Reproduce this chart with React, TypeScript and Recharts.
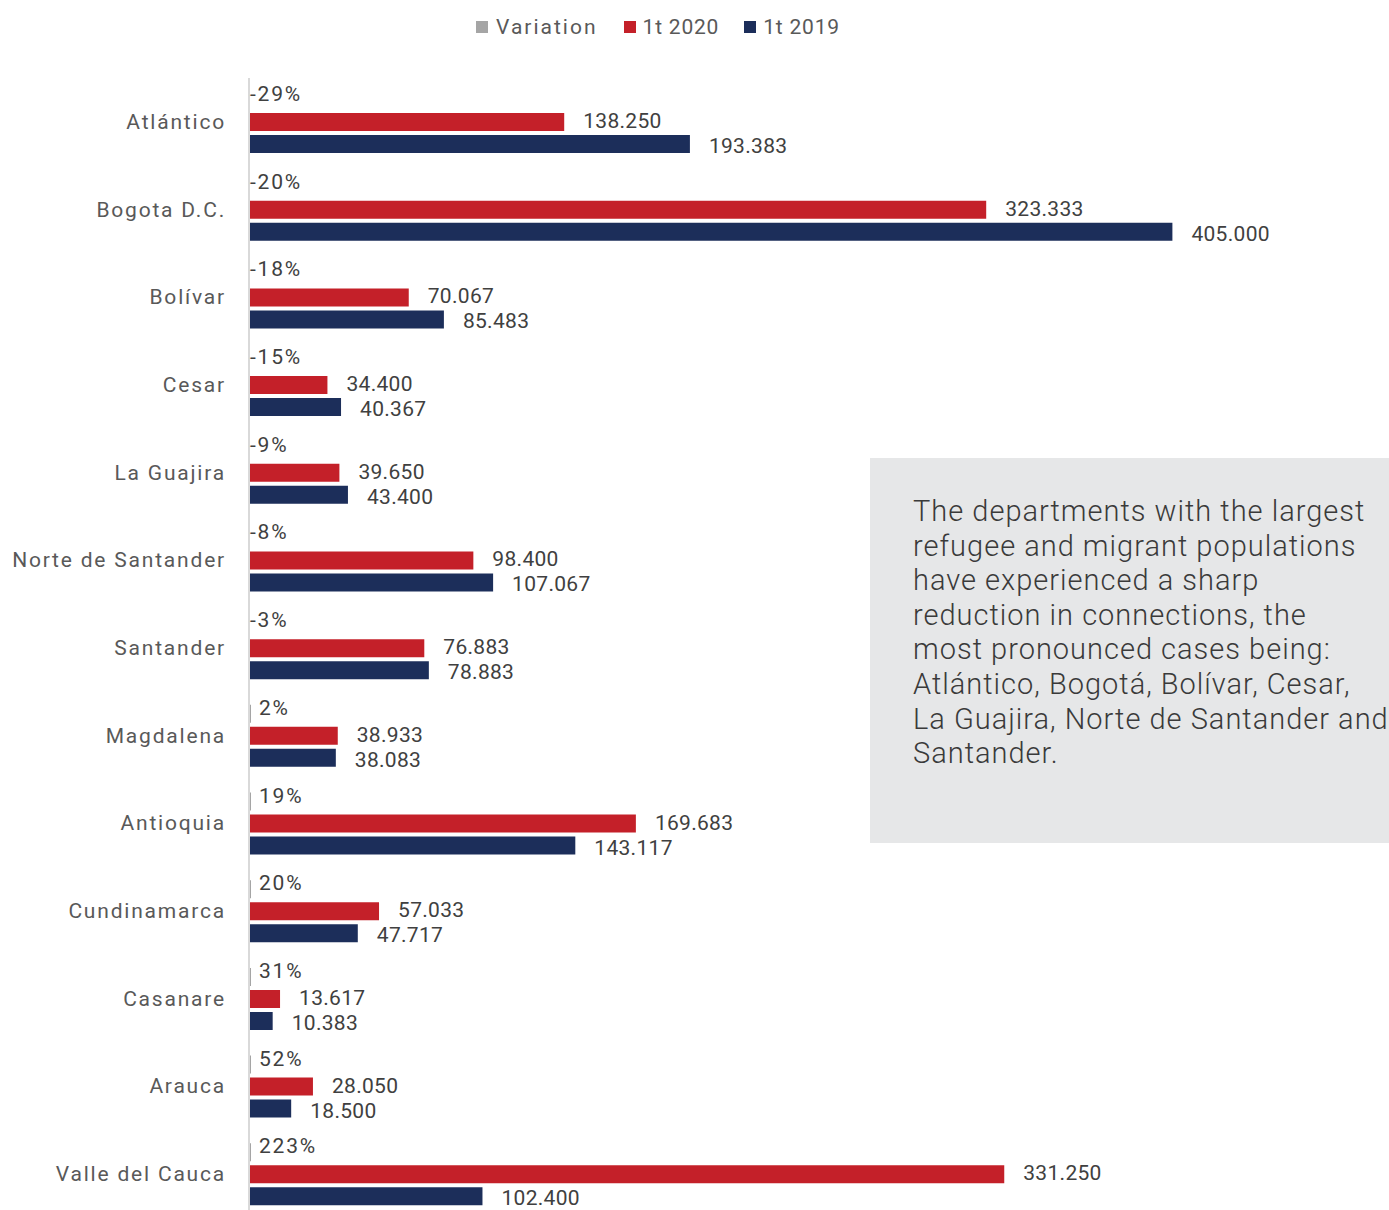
import React from 'react';
import { BarChart, Bar, XAxis, YAxis, Legend, LabelList } from 'recharts';

const categories = [
  'Atlántico', 'Bogota D.C.', 'Bolívar', 'Cesar', 'La Guajira', 'Norte de Santander',
  'Santander', 'Magdalena', 'Antioquia', 'Cundinamarca', 'Casanare', 'Arauca', 'Valle del Cauca',
];
const variation = [-0.29, -0.20, -0.18, -0.15, -0.09, -0.08, -0.03, 0.02, 0.19, 0.20, 0.31, 0.52, 2.23];
const q1_2020 = [138250, 323333, 70067, 34400, 39650, 98400, 76883, 38933, 169683, 57033, 13617, 28050, 331250];
const q1_2019 = [193383, 405000, 85483, 40367, 43400, 107067, 78883, 38083, 143117, 47717, 10383, 18500, 102400];
const seriesNames = ['Variation', '1t 2020', '1t 2019'];
const seriesColors = ['#A5A5A5', '#C42029', '#1C2E5A'];
const noteLines = [
  'The departments with the largest',
  'refugee and migrant populations',
  'have experienced a sharp',
  'reduction in connections, the',
  'most pronounced cases being:',
  'Atlántico, Bogotá, Bolívar, Cesar,',
  'La Guajira, Norte de Santander and',
  'Santander.',
];

const data = categories.map((name, i) => ({
  name,
  variation: variation[i],
  q2020: q1_2020[i],
  q2019: q1_2019[i],
}));

const FONT = 'Roboto, "Noto Sans", sans-serif';

const fmtThousands = (v: number) =>
  Math.round(v).toString().replace(/\B(?=(\d{3})+(?!\d))/g, '.');

const VariationLabel = (props: any) => {
  const { x, y, width, height, value } = props;
  const right = Math.max(x, x + width);
  const tx = value < 0 ? right + 1 : right + 8;
  return (
    <text
      x={tx}
      y={y + height / 2 - 6}
      dominantBaseline="central"
      textAnchor="start"
      fill="#404040"
      fontSize={21}
      fontFamily={FONT}
      letterSpacing={1.8}
    >
      {Math.round(value * 100) + '%'}
    </text>
  );
};

const makeValueLabel = (dy: number) => (props: any) => {
  const { x, y, width, height, value } = props;
  return (
    <text
      x={x + width + 19}
      y={y + height / 2 + dy}
      dominantBaseline="central"
      textAnchor="start"
      fill="#404040"
      fontSize={21}
      fontFamily={FONT}
      letterSpacing={0.3}
    >
      {fmtThousands(value)}
    </text>
  );
};
const RedLabel = makeValueLabel(-1);
const NavyLabel = makeValueLabel(2);

const legendGaps = [26, 25, 0];

const renderLegend = () => (
  <div
    style={{
      display: 'flex',
      alignItems: 'center',
      paddingLeft: 476,
      fontFamily: FONT,
      fontSize: 21,
      color: '#595959',
      height: 26,
    }}
  >
    {seriesNames.map((n, i) => (
      <span key={n} style={{ display: 'flex', alignItems: 'center', marginRight: legendGaps[i] }}>
        <span
          style={{ width: 12, height: 12, background: seriesColors[i], marginRight: i === 0 ? 8 : 7, display: 'inline-block' }}
        />
        <span style={{ letterSpacing: i === 0 ? 2 : 0.8 }}>{n}</span>
      </span>
    ))}
  </div>
);

const CategoryTick = (props: any) => {
  const { x, y, payload } = props;
  return (
    <text
      x={x}
      y={y}
      dominantBaseline="central"
      textAnchor="end"
      fill="#595959"
      fontSize={21}
      fontFamily={FONT}
      letterSpacing={1.8}
    >
      {payload.value}
    </text>
  );
};

export default function App() {
  return (
    <div
      style={{
        position: 'absolute',
        left: 0,
        top: 0,
        width: 1389,
        height: 1210,
        overflow: 'hidden',
        background: '#ffffff',
      }}
    >
      <BarChart
        width={1389}
        height={1220}
        data={data}
        layout="vertical"
        margin={{ top: 78, right: 0, bottom: 2, left: 0 }}
        barSize={18}
        barGap={4}
      >
        <XAxis type="number" hide domain={[0, 500000]} allowDataOverflow />
        <YAxis
          type="category"
          dataKey="name"
          width={249}
          tickLine={false}
          tickSize={0}
          tickMargin={23}
          axisLine={{ stroke: '#D9D9D9', strokeWidth: 2 }}
          tick={<CategoryTick />}
          interval={0}
        />
        <Legend
          content={renderLegend}
          layout="horizontal"
          verticalAlign="middle"
          align="center"
          wrapperStyle={{ top: 14, left: 0, width: 1389, height: 26 }}
        />
        <Bar dataKey="variation" name={seriesNames[0]} fill={seriesColors[0]} minPointSize={2} isAnimationActive={false}>
          <LabelList dataKey="variation" content={<VariationLabel />} />
        </Bar>
        <Bar dataKey="q2020" name={seriesNames[1]} fill={seriesColors[1]} isAnimationActive={false}>
          <LabelList dataKey="q2020" content={<RedLabel />} />
        </Bar>
        <Bar dataKey="q2019" name={seriesNames[2]} fill={seriesColors[2]} isAnimationActive={false}>
          <LabelList dataKey="q2019" content={<NavyLabel />} />
        </Bar>
      </BarChart>
      <svg
        width={519}
        height={385}
        style={{ position: 'absolute', left: 870, top: 458 }}
      >
        <rect x={0} y={0} width={519} height={385} fill="#E6E7E8" />
        {noteLines.map((line, i) => (
          <text
            key={i}
            x={43}
            y={63 + i * 34.6}
            fill="#3A3A3A"
            fontSize={29}
            fontFamily={FONT}
            fontWeight={300}
            letterSpacing={1.0}
          >
            {line}
          </text>
        ))}
      </svg>
    </div>
  );
}
